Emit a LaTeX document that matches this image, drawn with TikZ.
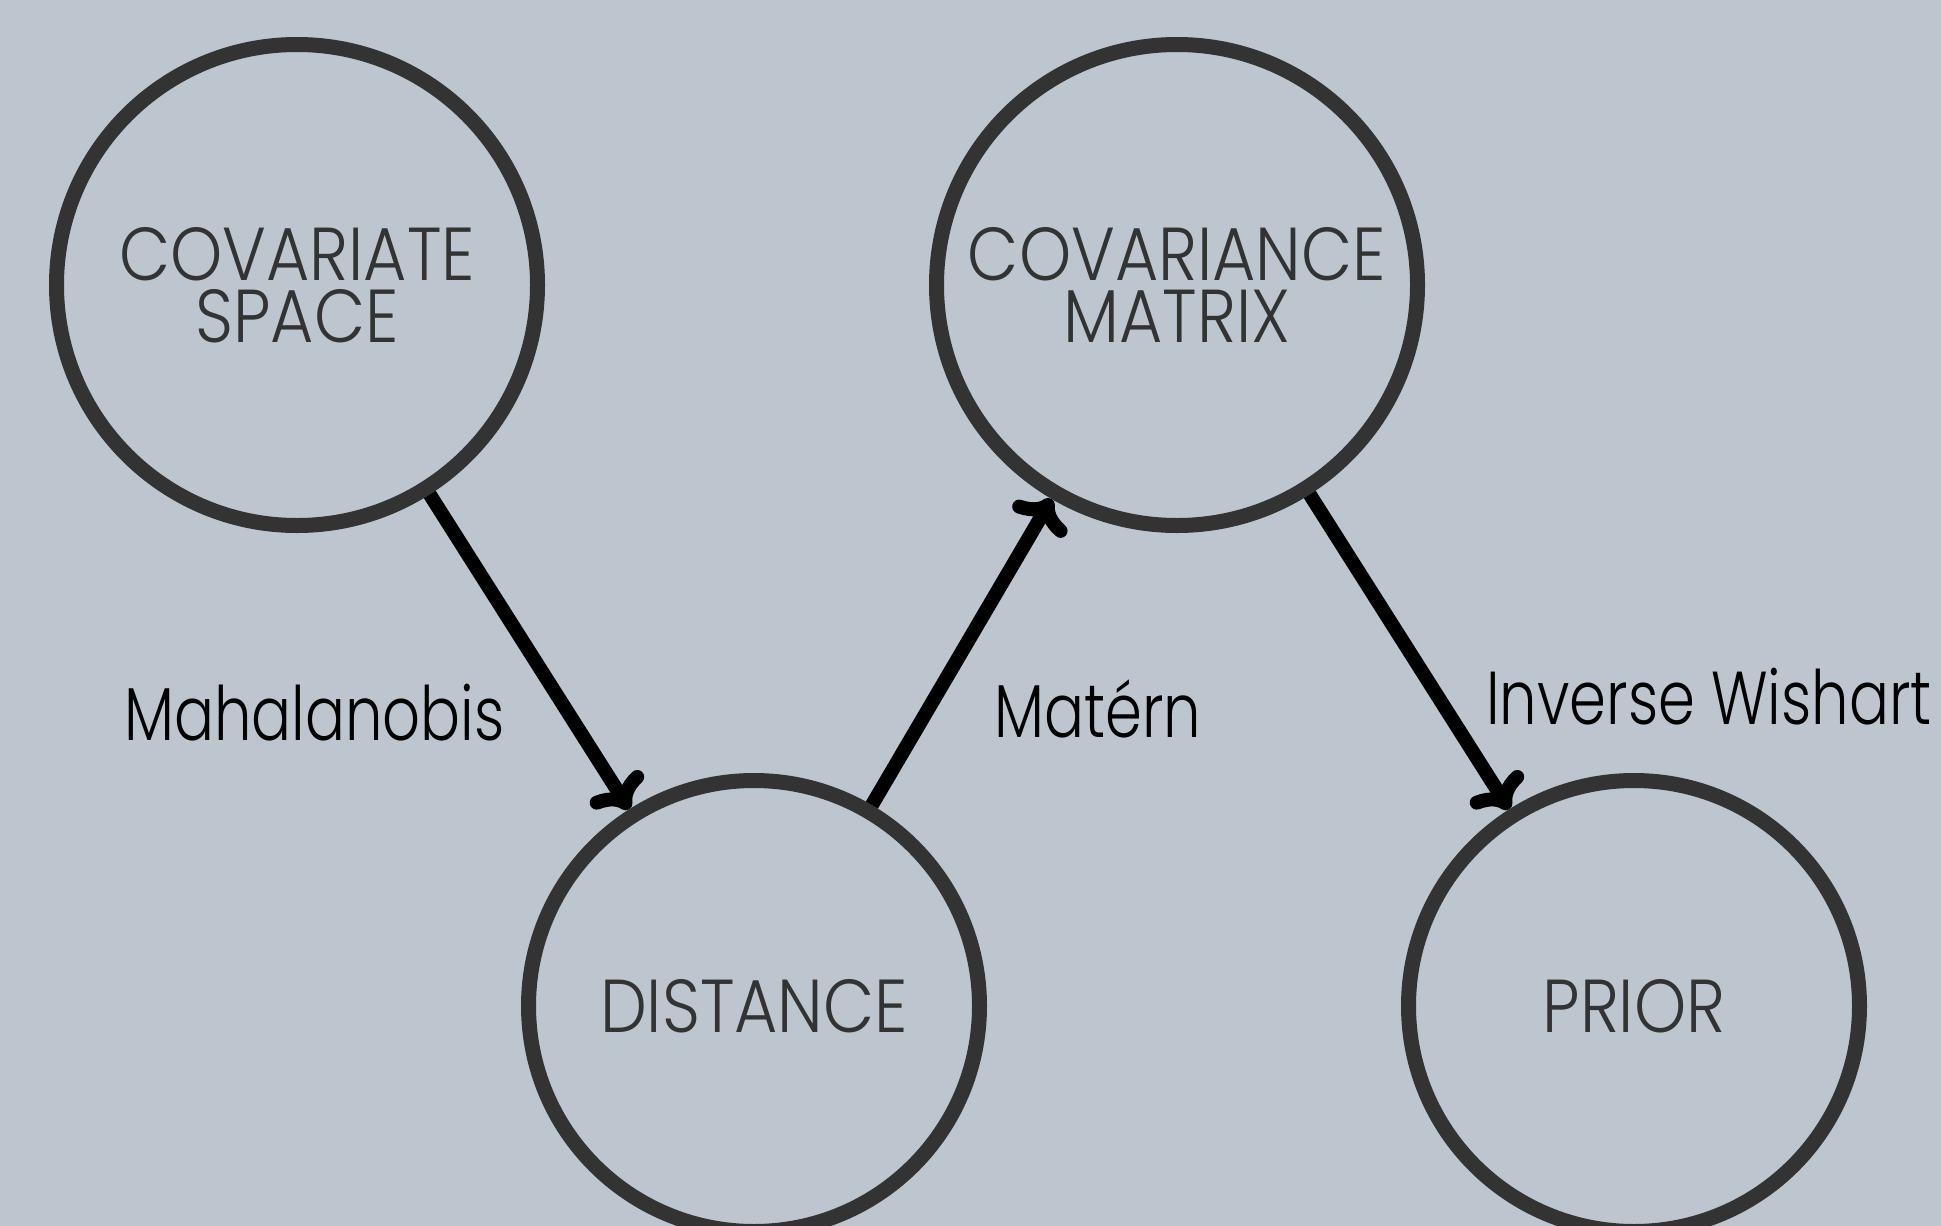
\documentclass[tikz,border=0pt]{standalone}
\usepackage{fontspec}
\setmainfont{Poppins Light}
\newfontfamily\nodefont{Poppins Light}[FakeStretch=0.885]
\newfontfamily\lblfont{Poppins Light}[FakeStretch=0.79]
\usetikzlibrary{arrows.meta}
\definecolor{bg}{RGB}{189,198,206}
\definecolor{ink}{RGB}{51,51,51}
\begin{document}
\begin{tikzpicture}[x=1pt,y=-1pt,
  state/.style={circle, draw=ink, line width=15pt, inner sep=0pt, text=ink,
    font=\nodefont\fontsize{75}{62}\selectfont, align=center},
  bigstate/.style={state, minimum size=481pt},
  smallstate/.style={state, minimum size=451pt},
  conn/.style={line width=14pt, draw=black,
    -{Computer Modern Rightarrow[length=30pt,width=62pt,line cap=round]}},
  lbl/.style={font=\lblfont\fontsize{75}{75}\selectfont, text=black, inner sep=0pt, anchor=base west}]
\clip (0,0) rectangle (1941,1226);
\fill[bg] (0,0) rectangle (1941,1226);
\node[bigstate] (cs) at (297,285) {COVARIATE\\SPACE};
\node[bigstate] (cm) at (1177,285) {COVARIANCE\\MATRIX};
\node[smallstate] (di) at (754,1006) {DISTANCE};
\node[smallstate] (pr) at (1634,1006) {PRIOR};
\draw[conn] (cs) -- (di);
\draw[conn] (di) -- (cm);
\draw[conn] (cm) -- (pr);
\node[lbl] (l1) at (124,740) {Mahalanobis};
\node[lbl] (l2) at (994,737) {Matérn};
\node[lbl] (l3) at (1486,724) {Inverse Wishart};
\end{tikzpicture}
\end{document}
